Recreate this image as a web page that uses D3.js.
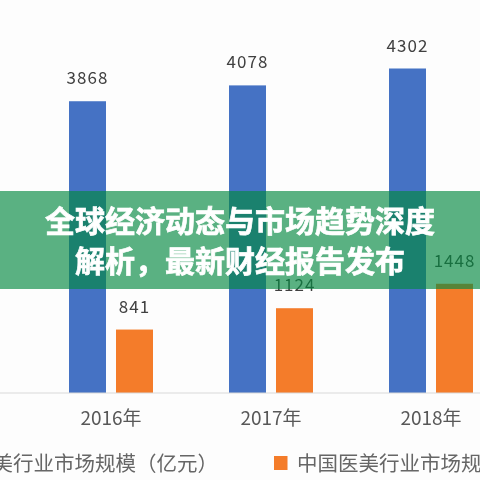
<!DOCTYPE html>
<html>
<head>
<meta charset="utf-8">
<script src="https://cdn.jsdelivr.net/npm/d3@7"></script>
<style>
    html, body { margin: 0; padding: 0; background: #fdfdfd; overflow: hidden; }
    svg { display: block; }
</style>
</head>
<body>
<div id="chart"></div>
<script>
const years = ['2016年', '2017年', '2018年'];
const seriesNames = ['中国医美行业市场规模（亿元）', '中国医美行业市场规模'];
const marketSize = [3868, 4078, 4302];
const secondSeries = [841, 1124, 1448];
const seriesColors = ['#4472c4', '#f47b2a'];
const titleLines = ['全球经济动态与市场趋势深度', '解析，最新财经报告发布'];

const width = 480;
const height = 480;
const baseY = 393;
const cjk = '"Noto Sans CJK SC", "Noto Sans", sans-serif';

const svg = d3.select('#chart').append('svg')
    .attr('width', width)
    .attr('height', height);

svg.append('defs').append('filter')
    .attr('id', 'soft')
    .append('feGaussianBlur')
    .attr('stdDeviation', 0.35);

const chart = svg.append('g').attr('filter', 'url(#soft)');

// The plot runs past both edges of the picture, only part of it is visible
const x = d3.scaleBand().domain(years).range([31, 511]).padding(0);
const inner = d3.scaleBand().domain([0, 1]).range([38, 122]).paddingInner(0.2128);
const y = d3.scaleLinear().domain([0, 4302]).range([baseY, 68.5]);

// Bars + value labels
[marketSize, secondSeries].forEach((values, s) => {
    const g = chart.append('g');

    g.selectAll('rect')
        .data(values)
        .join('rect')
        .attr('x', (d, i) => x(years[i]) + inner(s))
        .attr('y', d => y(d))
        .attr('width', inner.bandwidth())
        .attr('height', d => baseY - y(d))
        .attr('fill', seriesColors[s]);

    g.selectAll('text')
        .data(values)
        .join('text')
        .attr('x', (d, i) => x(years[i]) + inner(s) + inner.bandwidth() / 2)
        .attr('y', d => y(d) - 17)
        .attr('text-anchor', 'middle')
        .attr('fill', '#404040')
        .attr('font-family', cjk)
        .attr('font-size', '17px')
        .attr('letter-spacing', '1px')
        .text(d => d);
});

// X axis
const axis = chart.append('g')
    .attr('transform', `translate(0, ${baseY})`)
    .call(d3.axisBottom(x).tickSize(0).tickPadding(19));
axis.select('.domain').remove();
axis.append('line')
    .attr('x1', 0)
    .attr('x2', width)
    .attr('stroke', '#d9d9d9')
    .attr('stroke-width', 1);
axis.selectAll('text')
    .attr('fill', '#595959')
    .attr('font-family', cjk)
    .attr('font-size', '19px');

// Legend, clipped by the picture on both sides
chart.append('text')
    .attr('x', 218)
    .attr('y', 471)
    .attr('text-anchor', 'end')
    .attr('fill', '#666')
    .attr('font-family', cjk)
    .attr('font-size', '20.5px')
    .text(seriesNames[0]);

chart.append('rect')
    .attr('x', 274)
    .attr('y', 456)
    .attr('width', 13.5)
    .attr('height', 14)
    .attr('fill', seriesColors[1]);

chart.append('text')
    .attr('x', 297)
    .attr('y', 471)
    .attr('fill', '#666')
    .attr('font-family', cjk)
    .attr('font-size', '20.5px')
    .text(seriesNames[1]);

// Green title banner on top of the chart
svg.append('rect')
    .attr('x', 0)
    .attr('y', 191)
    .attr('width', width)
    .attr('height', 98)
    .attr('fill', 'rgb(3, 137, 65)')
    .attr('fill-opacity', 0.65);

svg.selectAll('.title-line')
    .data(titleLines)
    .join('text')
    .attr('class', 'title-line')
    .attr('x', width / 2)
    .attr('y', (d, i) => 232 + i * 40)
    .attr('text-anchor', 'middle')
    .attr('fill', '#fff')
    .attr('stroke', '#fff')
    .attr('stroke-width', 0.7)
    .attr('font-family', cjk)
    .attr('font-weight', 700)
    .attr('font-size', '30px')
    .text(d => d);
</script>
</body>
</html>
